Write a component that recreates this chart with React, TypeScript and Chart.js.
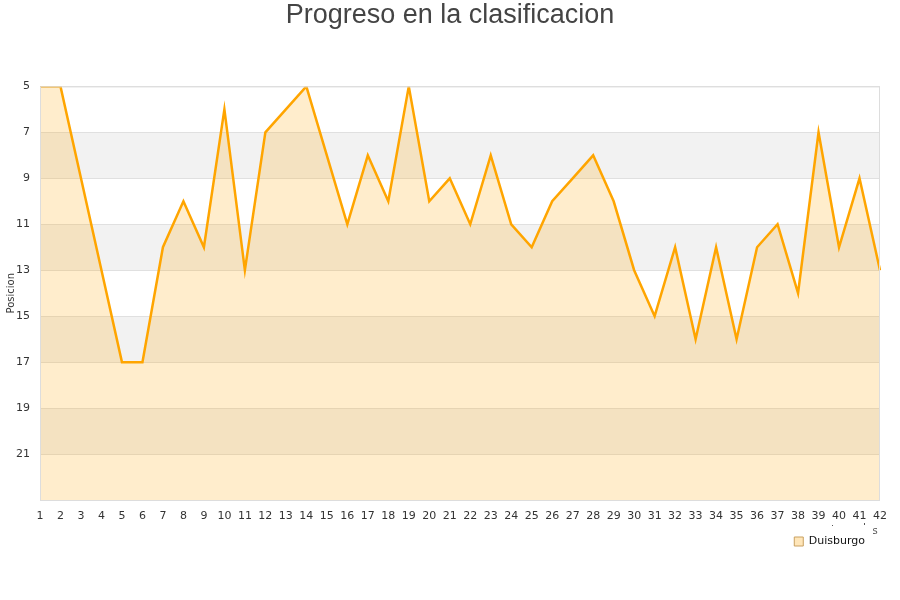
import React, { useEffect, useRef } from "react";
import Chart from "chart.js/auto";

// jornadas 1..42
const jornadas: string[] = Array.from({ length: 42 }, (_, i) => String(i + 1));
// posicion en cada jornada
const posiciones: number[] = [
  5, 5, 9, 13, 17, 17, 12, 10, 12, 6, 13, 7, 6, 5, 8, 11, 8, 10, 5, 10, 9,
  11, 8, 11, 12, 10, 9, 8, 10, 13, 15, 12, 16, 12, 16, 12, 11, 14, 7, 12, 9, 13,
];
const yMin = 5;
const yMax = 23;
const yStep = 2;
const titulo = "Progreso en la clasificacion";
const tituloFont = "27px 'Liberation Sans', Arial, sans-serif";

const bandsPlugin = {
  id: "bands",
  beforeDraw(chart: any) {
    const { ctx, chartArea, scales } = chart;
    ctx.save();
    ctx.fillStyle = "#ffffff";
    ctx.fillRect(0, 0, chart.width, chart.height);
    const y = scales.y;
    ctx.fillStyle = "#f2f2f2";
    for (let v = yMin + yStep, i = 0; v < yMax; v += yStep, i++) {
      if (i % 2 === 0) {
        const top = y.getPixelForValue(v);
        const bottom = y.getPixelForValue(Math.min(v + yStep, yMax));
        ctx.fillRect(chartArea.left, top, chartArea.right - chartArea.left, bottom - top);
      }
    }
    ctx.restore();
  },
  afterDraw(chart: any) {
    const { ctx, chartArea } = chart;
    ctx.save();
    ctx.strokeStyle = "#dddddd";
    ctx.lineWidth = 1;
    ctx.strokeRect(chartArea.left + 0.5, chartArea.top + 0.5, chartArea.right - chartArea.left - 1, chartArea.bottom - chartArea.top);
    // titulo centrado en el lienzo completo
    ctx.fillStyle = "#444444";
    ctx.font = tituloFont;
    ctx.textAlign = "center";
    ctx.textBaseline = "middle";
    ctx.fillText(titulo, chart.width / 2, 16);
    // restos del titulo del eje x
    ctx.fillStyle = "#555";
    ctx.font = "10px 'DejaVu Sans'";
    ctx.fillText("s", 875, 531);
    ctx.fillRect(832, 525, 1, 1);
    ctx.fillRect(864, 523, 1, 2);
    ctx.restore();
  },
};

const ClasificacionChart: React.FC = () => {
  const chartRef = useRef<HTMLCanvasElement>(null);
  const chartInstance = useRef<Chart | null>(null);

  useEffect(() => {
    document.body.style.margin = "0";
    if (chartRef && chartRef.current) {
      const ctx = chartRef.current.getContext("2d");
      if (ctx) {
        if (chartInstance.current) {
          chartInstance.current.destroy();
        }
        chartInstance.current = new Chart(ctx, {
          type: "line",
          data: {
            labels: jornadas,
            datasets: [
              {
                label: "Duisburgo",
                data: posiciones,
                borderColor: "#ffa500",
                backgroundColor: "rgba(255,165,0,0.2)",
                borderWidth: 2.5,
                borderJoinStyle: "miter",
                pointRadius: 0,
                pointHoverRadius: 0,
                tension: 0,
                fill: { value: yMax },
              },
            ],
          },
          options: {
            responsive: false,
            animation: false,
            layout: { padding: { left: 0, right: 20, top: 0, bottom: 43 } },
            plugins: {
              // space is reserved here, the text is painted by the plugin
              title: {
                display: true,
                text: titulo,
                color: "rgba(0,0,0,0)",
                font: { family: "'Liberation Sans', Arial, sans-serif", size: 27, weight: "normal" },
                padding: { top: 0, bottom: 54 },
              },
              legend: {
                position: "bottom",
                align: "end",
                labels: {
                  boxWidth: 9,
                  boxHeight: 9,
                  padding: 15,
                  color: "#111",
                  font: { family: "'DejaVu Sans'", size: 11 },
                  generateLabels: (chart: any) =>
                    Chart.defaults.plugins.legend.labels.generateLabels(chart).map((l: any) => ({
                      ...l,
                      lineWidth: 1,
                      strokeStyle: "#c9a060",
                      fillStyle: "rgba(255,200,100,0.45)",
                    })),
                },
              },
              tooltip: { enabled: false },
            },
            scales: {
              x: {
                type: "category",
                offset: false,
                grid: { display: false },
                border: { display: false },
                ticks: {
                  autoSkip: false,
                  maxRotation: 0,
                  color: "#333",
                  padding: 2,
                  font: { family: "'DejaVu Sans'", size: 11 },
                },
                afterFit: (scale: any) => {
                  scale.height = 21;
                },
              },
              y: {
                reverse: true,
                min: yMin,
                max: yMax,
                grid: { color: "#e0e0e0", drawTicks: false },
                border: { display: false },
                ticks: {
                  stepSize: yStep,
                  color: "#333",
                  padding: 10,
                  font: { family: "'DejaVu Sans'", size: 11 },
                  callback: (v: string | number) => (Number(v) >= yMax ? null : String(v)),
                },
                title: {
                  display: true,
                  text: "Posicion",
                  color: "#333",
                  font: { family: "'DejaVu Sans'", size: 10 },
                  padding: { top: 5, bottom: 0 },
                },
                afterFit: (scale: any) => {
                  scale.width = 40;
                },
              },
            },
          },
          plugins: [bandsPlugin],
        });
      }
    }

    return () => {
      if (chartInstance.current) {
        chartInstance.current.destroy();
        chartInstance.current = null;
      }
    };
  }, []);

  return (
    <div style={{ width: 900, height: 600 }}>
      <canvas ref={chartRef} width={900} height={600} />
    </div>
  );
};

export default function App() {
  return <ClasificacionChart />;
}
